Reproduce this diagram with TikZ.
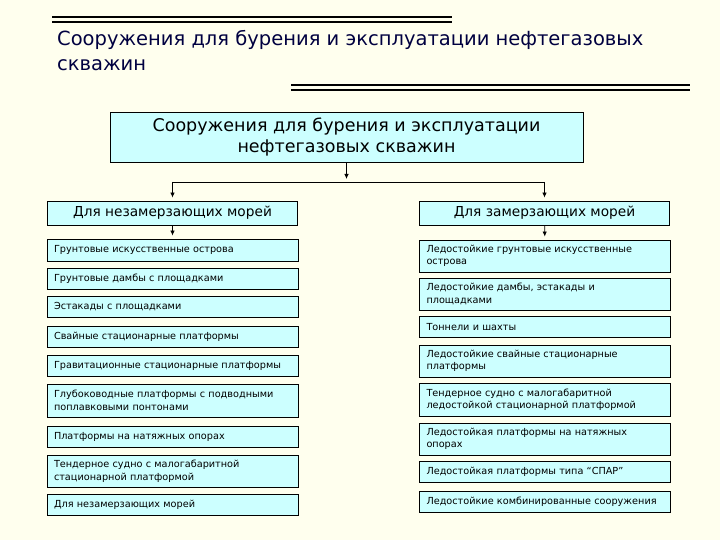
\documentclass[tikz,border=0pt]{standalone}
\usepackage{fontspec}
\setmainfont{DejaVu Sans}
\usetikzlibrary{arrows.meta}
\definecolor{paper}{HTML}{FFFFEE}
\definecolor{boxfill}{HTML}{CCFFFF}
\definecolor{titleink}{HTML}{000040}
\tikzset{
  box/.style={draw, fill=boxfill, line width=0.9pt, inner sep=0pt},
  head/.style={box, minimum width=250pt, minimum height=24pt, font=\fontsize{13.7}{15}\selectfont},
  item/.style={box, minimum width=251pt, text width=237pt, inner xsep=7pt, align=left,
    font=\fontsize{9.7}{12.5}\selectfont},
  arr/.style={-{Latex[length=5pt,width=4.5pt]}, line width=0.8pt, shorten >=3pt}
}
\begin{document}
\begin{tikzpicture}[x=1pt,y=-1pt]
  \useasboundingbox[fill=paper] (0,0) rectangle (720,540);
  %title with double lines
  \draw[line width=2pt] (52,17) -- (452,17);
  \draw[line width=2pt] (52,22) -- (452,22);
  \node[anchor=north west, align=left, inner sep=0pt, text=titleink,
    font=\fontsize{19.5}{25}\selectfont] (title) at (57,30)
    {Сооружения для бурения и эксплуатации нефтегазовых\\скважин};
  \draw[line width=2pt] (291,85) -- (690,85);
  \draw[line width=2pt] (291,90) -- (690,90);

  %main box
  \node[box, minimum width=473pt, minimum height=50pt, align=center,
    font=\fontsize{17.5}{21}\selectfont] (main) at (346.5,137)
    {Сооружения для бурения и эксплуатации\\нефтегазовых скважин};

  %branches
  \coordinate (split) at (346.5,182);
  \coordinate (hl) at (172.5,182);
  \coordinate (hr) at (544.5,182);
  \node[head] (lhead) at (172.5,213) {Для незамерзающих морей};
  \node[head] (rhead) at (544.5,213) {Для замерзающих морей};
  \draw[arr] (main) -- (split);
  \draw[line width=0.8pt] (hl) -- (hr);
  \draw[arr] (hl) -- (lhead);
  \draw[arr] (hr) -- (rhead);

  %left column
  \node[item, minimum height=22pt] (l1) at (172.5,250) {Грунтовые искусственные острова};
  \node[item, minimum height=21pt] (l2) at (172.5,278.5) {Грунтовые дамбы с площадками};
  \node[item, minimum height=21pt] (l3) at (172.5,307) {Эстакады с площадками};
  \node[item, minimum height=21pt] (l4) at (172.5,336.5) {Свайные стационарные платформы};
  \node[item, minimum height=21pt] (l5) at (172.5,365.5) {Гравитационные стационарные платформы};
  \node[item, minimum height=33pt] (l6) at (172.5,400.5) {Глубоководные платформы с подводными\\поплавковыми понтонами};
  \node[item, minimum height=21pt] (l7) at (172.5,437) {Платформы на натяжных опорах};
  \node[item, minimum height=32pt] (l8) at (172.5,471) {Тендерное судно с малогабаритной\\стационарной платформой};
  \node[item, minimum height=21pt] (l9) at (172.5,505) {Для незамерзающих морей};
  \draw[arr] (lhead) -- (l1);

  %right column
  \node[item, minimum height=32pt] (r1) at (545,256) {Ледостойкие грунтовые искусственные\\острова};
  \node[item, minimum height=32pt] (r2) at (545,294) {Ледостойкие дамбы, эстакады и\\площадками};
  \node[item, minimum height=21pt] (r3) at (545,327) {Тоннели и шахты};
  \node[item, minimum height=32pt] (r4) at (545,361) {Ледостойкие свайные стационарные\\платформы};
  \node[item, minimum height=33pt] (r5) at (545,399.5) {Тендерное судно с малогабаритной\\ледостойкой стационарной платформой};
  \node[item, minimum height=32pt] (r6) at (545,439) {Ледостойкая платформы на натяжных\\опорах};
  \node[item, minimum height=21pt] (r7) at (545,472) {Ледостойкая платформы типа “СПАР”};
  \node[item, minimum height=21pt] (r8) at (545,501.5) {Ледостойкие комбинированные сооружения};
  \draw[arr] (rhead) -- (r1);
\end{tikzpicture}
\end{document}
